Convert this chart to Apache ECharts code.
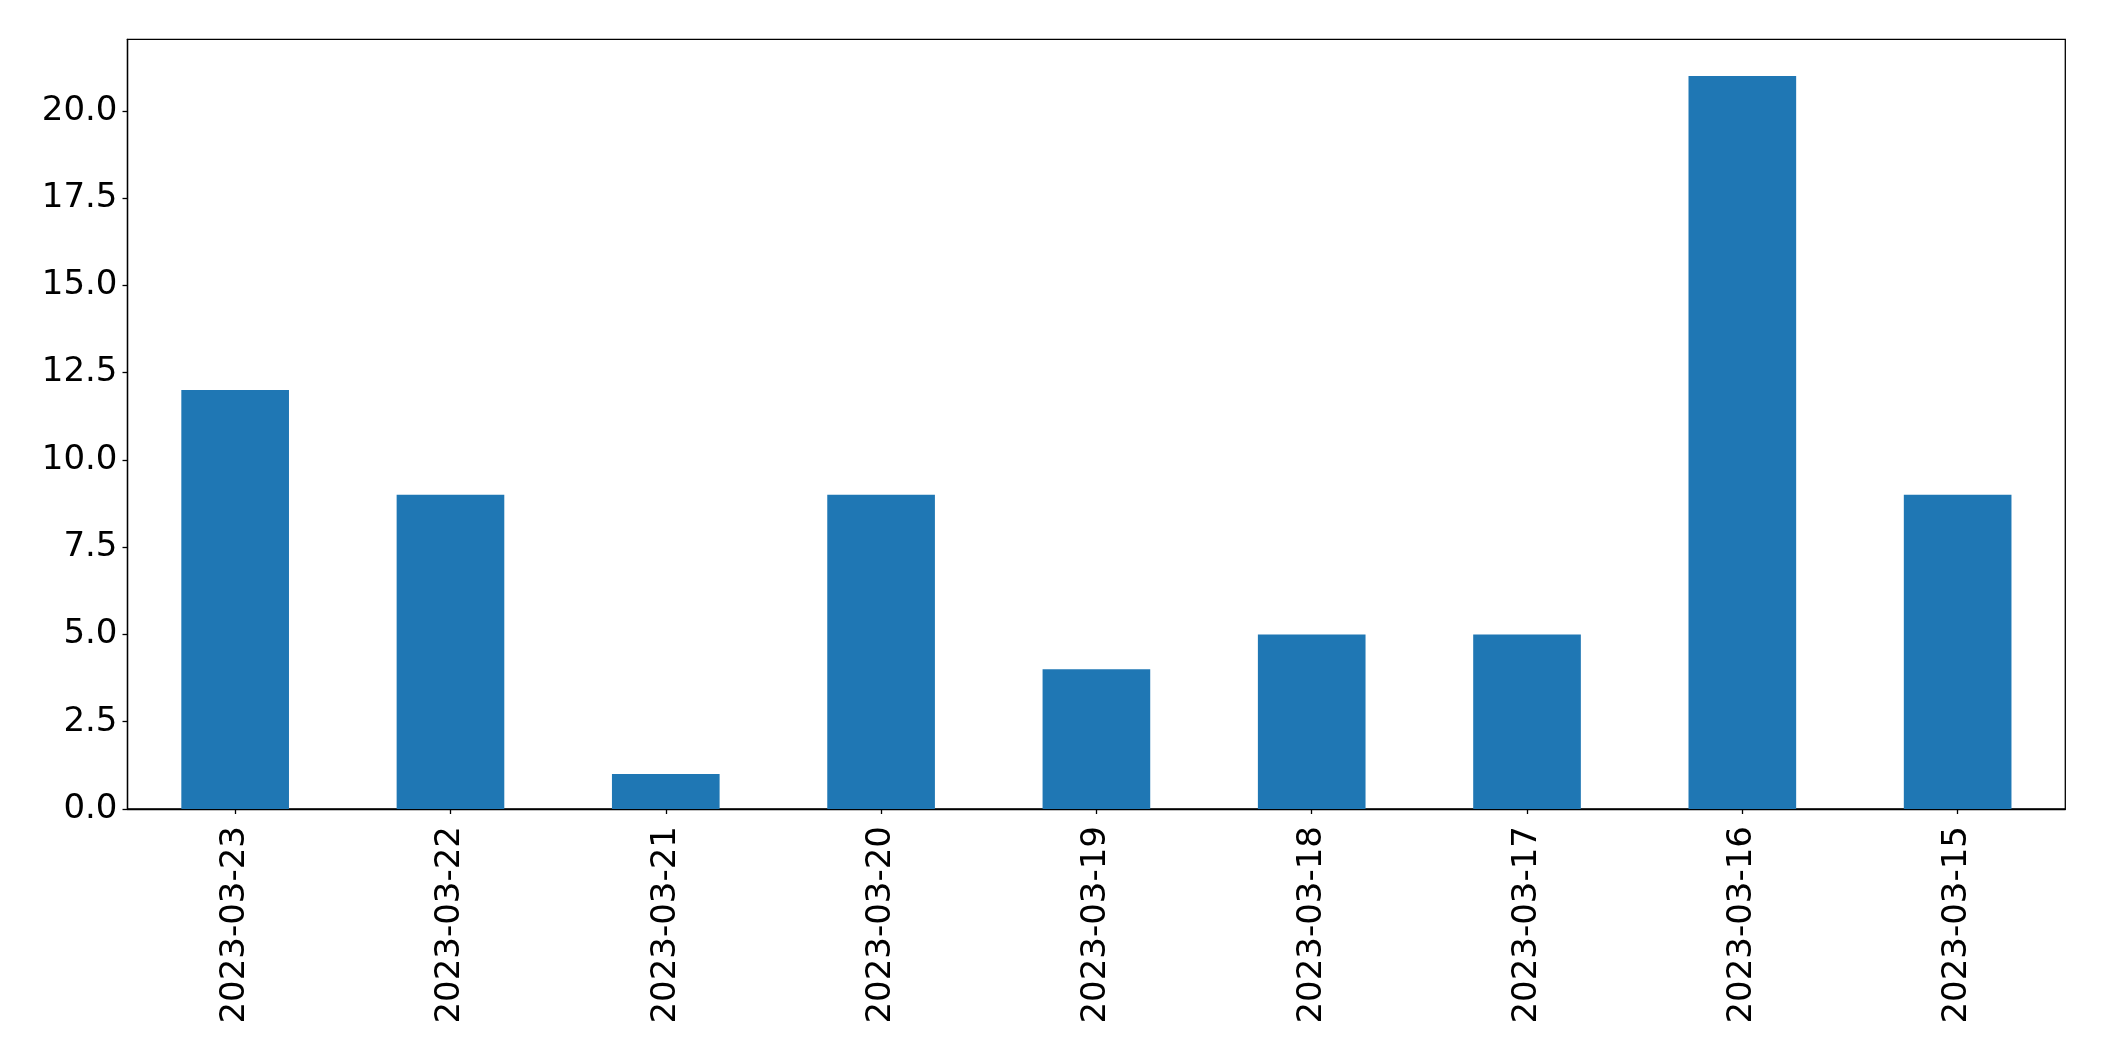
<!DOCTYPE html>
<html>
<head>
<meta charset="utf-8">
<script src="https://cdn.jsdelivr.net/npm/echarts@6/dist/echarts.min.js"></script>
<style>
html,body{margin:0;padding:0;background:#fff;}
#chart{width:2104px;height:1061px;}
</style>
</head>
<body>
<div id="chart"></div>
<script>
const categories = ['2023-03-23','2023-03-22','2023-03-21','2023-03-20','2023-03-19','2023-03-18','2023-03-17','2023-03-16','2023-03-15'];
const values = [12, 9, 1, 9, 4, 5, 5, 21, 9];
const yTicks = [0, 2.5, 5, 7.5, 10, 12.5, 15, 17.5, 20];

const chart = echarts.init(document.getElementById('chart'), null, {renderer:'canvas'});
const font = 'DejaVu Sans';
chart.setOption({
  animation: false,
  backgroundColor: '#fff',
  grid: {
    left: 127.5, top: 39.3, width: 1937.8, height: 769.7,
    show: true, borderColor: '#000', borderWidth: 1.3, backgroundColor: 'transparent',
    containLabel: false
  },
  xAxis: {
    type: 'category',
    data: categories,
    boundaryGap: true,
    axisLine: {show: true, lineStyle: {color: '#000', width: 1.3}},
    axisTick: {show: true, alignWithLabel: true, length: 5, lineStyle: {color: '#000', width: 1.3}},
    axisLabel: {rotate: 90, margin: 17, fontFamily: font, fontSize: 34, color: '#000', interval: 0},
    splitLine: {show: false}
  },
  yAxis: {
    type: 'value',
    min: 0,
    max: 22.05,
    interval: 2.5,
    axisLine: {show: true, lineStyle: {color: '#000', width: 1.3}},
    axisTick: {show: true, length: 5, lineStyle: {color: '#000', width: 1.3}},
    axisLabel: {
      margin: 10, fontFamily: font, fontSize: 34, color: '#000',
      padding: [6, 0, 0, 0],
      showMaxLabel: false,
      formatter: function (v) {
        return yTicks.some(t => Math.abs(t - v) < 1e-6) ? v.toFixed(1) : '';
      }
    },
    splitLine: {show: false}
  },
  series: [{
    type: 'bar',
    data: values,
    barWidth: '50%',
    itemStyle: {color: '#1f77b4'}
  }]
});
</script>
</body>
</html>
